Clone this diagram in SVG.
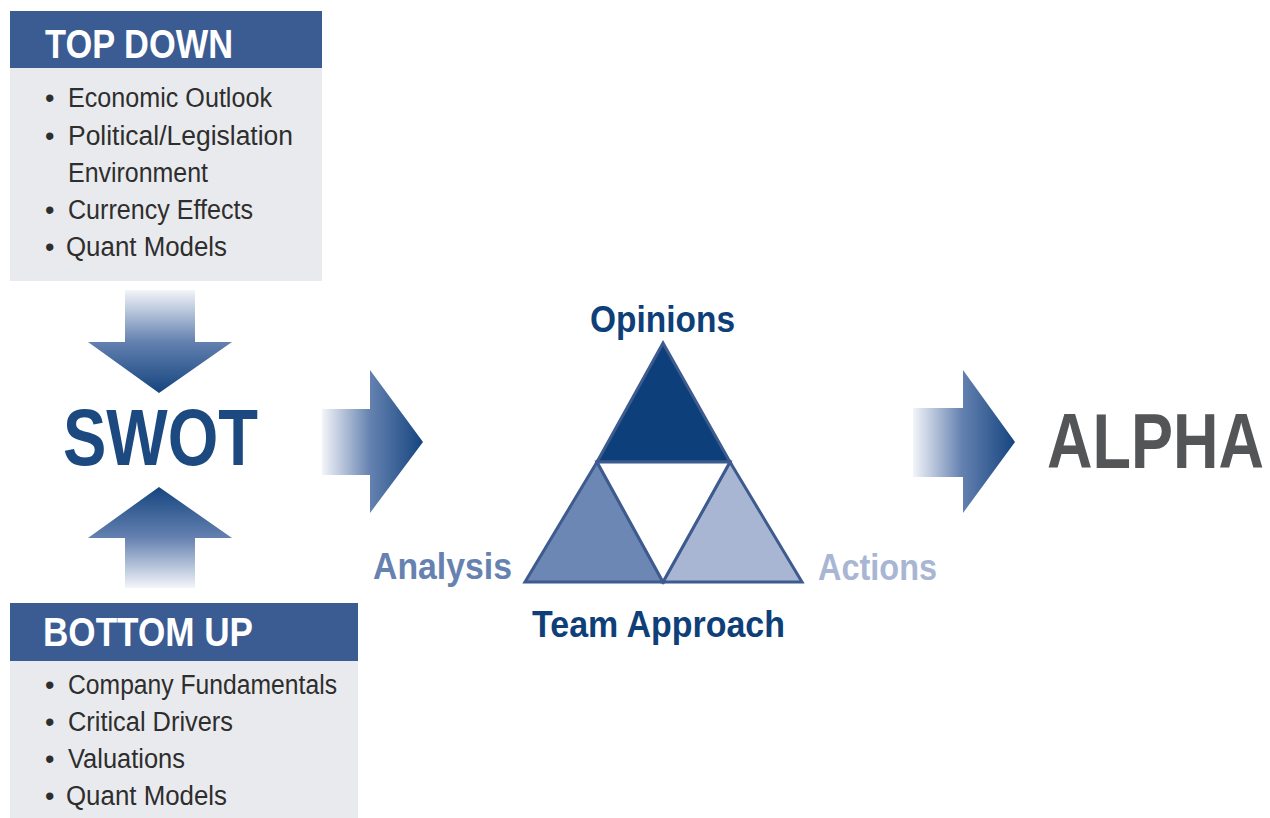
<svg xmlns="http://www.w3.org/2000/svg" width="1270" height="818" viewBox="0 0 1270 818">
<defs>
<style>
.hdr{fill:#3b5b93}
.box{fill:#e9eaed}
.cond{font-family:"Liberation Sans Narrow","Liberation Sans",Arial,sans-serif}
.h{font-weight:bold;font-size:41px;fill:#ffffff}
.item{font-size:27px;fill:#2e2e2e}
.big{font-weight:bold}
.tri{stroke:#3d5b8e;stroke-width:3;stroke-linejoin:miter}
</style>
<linearGradient id="gDown" x1="0" y1="0" x2="0" y2="1">
<stop offset="0" stop-color="#f3f5f9"/>
<stop offset="0.5" stop-color="#6481b0"/>
<stop offset="1" stop-color="#15457f"/>
</linearGradient>
<linearGradient id="gUp" x1="0" y1="1" x2="0" y2="0">
<stop offset="0" stop-color="#f3f5f9"/>
<stop offset="0.5" stop-color="#6481b0"/>
<stop offset="1" stop-color="#15457f"/>
</linearGradient>
<linearGradient id="gRight" x1="0" y1="0" x2="1" y2="0">
<stop offset="0" stop-color="#f3f5f9"/>
<stop offset="0.48" stop-color="#6481b0"/>
<stop offset="1" stop-color="#15457f"/>
</linearGradient>
</defs>
<rect width="1270" height="818" fill="#ffffff"/>

<g id="top-down">
<rect class="box" x="10" y="68" width="312" height="213"/>
<rect class="hdr" x="10" y="11" width="312" height="57"/>
<text class="cond h" x="45" y="58" textLength="188" lengthAdjust="spacingAndGlyphs">TOP DOWN</text>
<g class="cond item">
<text x="45" y="107">•</text><text x="68" y="107" textLength="204" lengthAdjust="spacingAndGlyphs">Economic Outlook</text>
<text x="45" y="145">•</text><text x="68" y="145" textLength="225" lengthAdjust="spacingAndGlyphs">Political/Legislation</text>
<text x="68" y="182" textLength="140" lengthAdjust="spacingAndGlyphs">Environment</text>
<text x="45" y="219">•</text><text x="68" y="219" textLength="185" lengthAdjust="spacingAndGlyphs">Currency Effects</text>
<text x="45" y="256">•</text><text x="66" y="256" textLength="161" lengthAdjust="spacingAndGlyphs">Quant Models</text>
</g>
</g>

<g id="bottom-up">
<rect class="box" x="10" y="661" width="348" height="157"/>
<rect class="hdr" x="10" y="603" width="348" height="58"/>
<text class="cond h" x="43" y="646" textLength="210" lengthAdjust="spacingAndGlyphs">BOTTOM UP</text>
<g class="cond item">
<text x="45" y="694">•</text><text x="68" y="694" textLength="269" lengthAdjust="spacingAndGlyphs">Company Fundamentals</text>
<text x="45" y="731">•</text><text x="68" y="731" textLength="165" lengthAdjust="spacingAndGlyphs">Critical Drivers</text>
<text x="45" y="768">•</text><text x="68" y="768" textLength="117" lengthAdjust="spacingAndGlyphs">Valuations</text>
<text x="45" y="805">•</text><text x="66" y="805" textLength="161" lengthAdjust="spacingAndGlyphs">Quant Models</text>
</g>
</g>

<g id="swot">
<text class="cond big" x="63" y="465" font-size="79" fill="#1c4a80" textLength="195" lengthAdjust="spacingAndGlyphs">SWOT</text>
</g>

<g id="triangle">
<polygon class="tri" points="663,343 730,462 597,462" fill="#0d3f7b"/>
<polygon class="tri" points="597,462 663,582 525,582" fill="#6c87b4"/>
<polygon class="tri" points="730,462 802,582 663,582" fill="#a8b6d4"/>
<polygon class="tri" points="597,462 730,462 663,582" fill="#ffffff"/>
<text class="cond big" x="590" y="332" font-size="37" fill="#0f3f78" textLength="145" lengthAdjust="spacingAndGlyphs">Opinions</text>
<text class="cond big" x="532" y="637" font-size="37" fill="#0f3f78" textLength="253" lengthAdjust="spacingAndGlyphs">Team Approach</text>
<text class="cond big" x="373" y="579" font-size="36" fill="#6782b0" textLength="139" lengthAdjust="spacingAndGlyphs">Analysis</text>
<text class="cond big" x="818" y="580" font-size="36" fill="#a9b6d3" textLength="119" lengthAdjust="spacingAndGlyphs">Actions</text>
</g>

<g id="alpha">
<text class="cond big" transform="translate(1047,468) scale(1,1.222)" x="0" y="0" font-size="63" fill="#545556" textLength="217" lengthAdjust="spacingAndGlyphs">ALPHA</text>
</g>

<g id="connectors">
<path d="M125,290 H195 V342 H232 L159,393 L88,342 H125 Z" fill="url(#gDown)"/>
<path d="M159,487 L232,538 H195 V588 H125 V538 H88 Z" fill="url(#gUp)"/>
<path d="M322,409 H370 V370 L423,442 L370,513 V475 H322 Z" fill="url(#gRight)"/>
<path d="M913,408 H963 V370 L1015,442 L963,513 V477 H913 Z" fill="url(#gRight)"/>
</g>
</svg>
